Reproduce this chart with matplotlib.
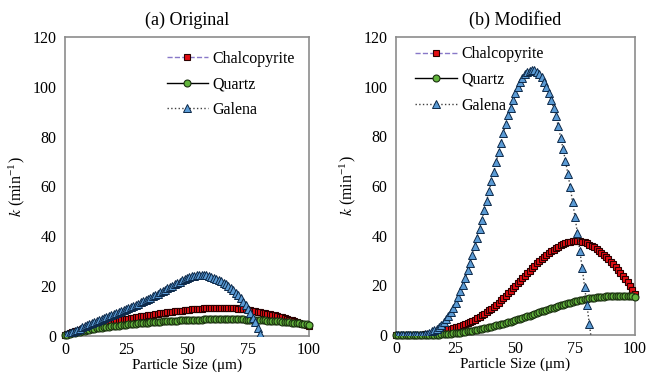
import matplotlib
matplotlib.use("Agg")
import matplotlib.pyplot as plt
import numpy as np

plt.rcParams['font.family'] = ['Liberation Serif', 'DejaVu Serif']
plt.rcParams['mathtext.fontset'] = 'stix'

# particle size (um), one marker per micron
size_um = np.arange(0, 101)
size_gal_a = np.arange(0, 81)
size_gal_b = np.arange(0, 83)

# (a) Original
chalco_a = [0.2, 0.7, 1.1, 1.5, 1.9, 2.2, 2.5, 2.8, 3.1, 3.4,
            3.7, 3.9, 4.2, 4.4, 4.6, 4.9, 5.1, 5.3, 5.5, 5.7,
            5.9, 6.1, 6.3, 6.5, 6.7, 6.9, 7.0, 7.2, 7.4, 7.5,
            7.7, 7.9, 8.0, 8.2, 8.3, 8.5, 8.6, 8.8, 8.9, 9.1,
            9.2, 9.3, 9.5, 9.6, 9.7, 9.9, 10.0, 10.1, 10.2, 10.4,
            10.5, 10.6, 10.7, 10.8, 10.9, 11.0, 11.0, 11.1, 11.2, 11.2,
            11.3, 11.3, 11.4, 11.4, 11.4, 11.4, 11.4, 11.3, 11.3, 11.2,
            11.1, 11.0, 10.9, 10.8, 10.7, 10.5, 10.4, 10.2, 10.0, 9.8,
            9.6, 9.4, 9.2, 9.0, 8.7, 8.5, 8.3, 8.0, 7.7, 7.5,
            7.2, 6.9, 6.6, 6.3, 6.0, 5.7, 5.4, 5.0, 4.7, 4.3, 4.0]
quartz_a = [0.2, 0.5, 0.8, 1.1, 1.4, 1.6, 1.8, 2.0, 2.2, 2.4,
            2.6, 2.8, 2.9, 3.1, 3.2, 3.4, 3.5, 3.6, 3.8, 3.9,
            4.0, 4.1, 4.2, 4.4, 4.5, 4.6, 4.7, 4.8, 4.9, 5.0,
            5.1, 5.2, 5.3, 5.4, 5.4, 5.5, 5.6, 5.7, 5.8, 5.8,
            5.9, 6.0, 6.0, 6.1, 6.1, 6.2, 6.2, 6.3, 6.3, 6.4,
            6.4, 6.5, 6.5, 6.5, 6.6, 6.6, 6.6, 6.7, 6.7, 6.7,
            6.7, 6.8, 6.8, 6.8, 6.8, 6.8, 6.8, 6.8, 6.8, 6.7,
            6.7, 6.7, 6.7, 6.7, 6.6, 6.6, 6.6, 6.5, 6.5, 6.4,
            6.4, 6.3, 6.3, 6.2, 6.2, 6.1, 6.0, 6.0, 5.9, 5.8,
            5.7, 5.6, 5.5, 5.4, 5.3, 5.2, 5.1, 5.0, 4.8, 4.7, 4.5]
galena_a = [0.3, 0.9, 1.4, 1.8, 2.2, 2.6, 3.0, 3.5, 4.0, 4.4,
            4.8, 5.2, 5.6, 6.0, 6.4, 6.8, 7.2, 7.6, 8.0, 8.4,
            8.8, 9.2, 9.6, 10.0, 10.4, 10.9, 11.3, 11.7, 12.1, 12.6,
            13.0, 13.5, 13.9, 14.4, 14.9, 15.4, 15.9, 16.4, 16.9, 17.5,
            18.0, 18.6, 19.1, 19.7, 20.2, 20.8, 21.3, 21.8, 22.3, 22.8,
            23.2, 23.6, 23.9, 24.2, 24.4, 24.5, 24.5, 24.4, 24.3, 24.1,
            23.8, 23.4, 23.0, 22.5, 22.0, 21.4, 20.7, 20.0, 19.2, 18.3,
            17.3, 16.3, 15.1, 13.8, 12.4, 10.9, 9.2, 7.4, 5.5, 3.4, 0.8]

# (b) Modified
chalco_b = [0.0, 0.0, 0.0, 0.0, 0.0, 0.0, 0.0, 0.0, 0.1, 0.1,
            0.1, 0.2, 0.3, 0.4, 0.5, 0.6, 0.8, 1.0, 1.2, 1.5,
            1.8, 2.0, 2.3, 2.6, 2.8, 3.1, 3.4, 3.7, 4.0, 4.4,
            4.8, 5.2, 5.7, 6.2, 6.7, 7.3, 7.9, 8.5, 9.2, 9.9,
            10.6, 11.4, 12.2, 13.0, 13.9, 14.8, 15.8, 16.8, 17.8, 18.8,
            19.8, 20.8, 21.8, 22.9, 23.9, 24.9, 25.9, 26.9, 27.9, 28.8,
            29.7, 30.6, 31.4, 32.2, 33.0, 33.7, 34.4, 35.0, 35.6, 36.1,
            36.6, 37.0, 37.3, 37.6, 37.8, 37.9, 37.9, 37.8, 37.6, 37.3,
            36.9, 36.4, 35.9, 35.3, 34.6, 33.9, 33.1, 32.3, 31.4, 30.5,
            29.5, 28.5, 27.4, 26.3, 25.1, 23.9, 22.6, 21.2, 19.8, 18.2, 16.6]
quartz_b = [0.0, 0.0, 0.0, 0.0, 0.0, 0.0, 0.0, 0.0, 0.0, 0.0,
            0.0, 0.0, 0.0, 0.0, 0.0, 0.1, 0.1, 0.2, 0.2, 0.3,
            0.3, 0.4, 0.5, 0.6, 0.7, 0.8, 0.9, 1.0, 1.2, 1.3,
            1.5, 1.7, 1.8, 2.0, 2.2, 2.4, 2.6, 2.8, 3.0, 3.2,
            3.4, 3.6, 3.9, 4.1, 4.4, 4.6, 4.9, 5.2, 5.4, 5.7,
            6.0, 6.3, 6.6, 6.9, 7.2, 7.5, 7.8, 8.2, 8.5, 8.8,
            9.2, 9.5, 9.8, 10.1, 10.4, 10.7, 11.0, 11.3, 11.6, 11.9,
            12.2, 12.5, 12.8, 13.0, 13.3, 13.5, 13.8, 14.0, 14.2, 14.4,
            14.6, 14.8, 14.9, 15.1, 15.2, 15.3, 15.4, 15.5, 15.6, 15.6,
            15.7, 15.7, 15.8, 15.8, 15.8, 15.8, 15.8, 15.7, 15.7, 15.6, 15.5]
galena_b = [0.0, 0.0, 0.0, 0.0, 0.0, 0.0, 0.0, 0.0, 0.0, 0.1,
            0.1, 0.2, 0.3, 0.6, 1.0, 1.5, 2.0, 2.6, 3.3, 4.2,
            5.2, 6.4, 7.8, 9.3, 11.0, 13.0, 15.2, 17.6, 20.2, 23.0,
            26.0, 29.0, 32.3, 35.7, 39.2, 42.8, 46.5, 50.3, 54.1, 58.0,
            62.0, 65.8, 69.7, 73.5, 77.4, 81.5, 85.0, 88.4, 91.5, 94.5,
            97.3, 99.8, 101.9, 103.6, 104.9, 105.8, 106.4, 106.7, 106.6, 106.0,
            105.0, 103.8, 102.0, 100.0, 97.5, 94.5, 91.5, 88.0, 84.0, 79.5,
            75.0, 70.0, 65.0, 59.5, 53.5, 47.5, 41.0, 34.0, 27.0, 19.5,
            12.0, 4.5, -3.0]

x_ticks = [0, 25, 50, 75, 100]
y_ticks = [0, 20, 40, 60, 80, 100, 120]

red = '#E30E14'
green = '#62B43C'
blue = '#5B9BD5'


def draw_panel(ax, chalco, quartz, gal_x, galena, title, legend_loc):
    ax.plot(size_um, chalco, linestyle='--', color='#8878C8', lw=1,
            marker='s', ms=5, mfc=red, mec='#2A0000', mew=0.8,
            label='Chalcopyrite', clip_on=False, zorder=3)
    ax.plot(size_um, quartz, linestyle='-', color='black', lw=1,
            marker='o', ms=5, mfc=green, mec='#1A3010', mew=0.8,
            label='Quartz', clip_on=False, zorder=4)
    ax.plot(gal_x, galena, linestyle=':', color='#404040', lw=1,
            marker='^', ms=5.5, mfc=blue, mec='#0C2848', mew=0.7,
            label='Galena', zorder=5)
    ax.set_xlim(0, 100)
    ax.set_ylim(0, 120)
    ax.set_xticks(x_ticks)
    ax.set_yticks(y_ticks)
    ax.tick_params(length=0, labelsize=11.5)
    ax.tick_params(axis='x', pad=4)
    ax.tick_params(axis='y', pad=6)
    for s in ax.spines.values():
        s.set_color('#8C8C8C')
        s.set_linewidth(1.2)
    ax.set_title(title, fontsize=13, pad=9)
    ax.set_xlabel(r'Particle Size ($\mathregular{\mu}$m)', fontsize=11, labelpad=-1)
    ax.set_ylabel(r'$\mathit{k}$ (min$^{\mathregular{-1}}$)', fontsize=11.5, labelpad=4)
    ax.legend(loc='upper left', bbox_to_anchor=legend_loc, frameon=False,
              fontsize=11.5, handlelength=2.6, labelspacing=0.6,
              handletextpad=0.3, borderaxespad=0)


fig = plt.figure(figsize=(6.47, 3.76), dpi=100)
ax1 = fig.add_axes([0.1005, 0.1064, 0.377, 0.7952])
ax2 = fig.add_axes([0.612, 0.109, 0.369, 0.7926])

draw_panel(ax1, chalco_a, quartz_a, size_gal_a, galena_a, '(a) Original', (0.39, 0.975))
draw_panel(ax2, chalco_b, quartz_b, size_gal_b, galena_b, '(b) Modified', (0.055, 0.99))

fig.savefig('out.png', dpi=100)
